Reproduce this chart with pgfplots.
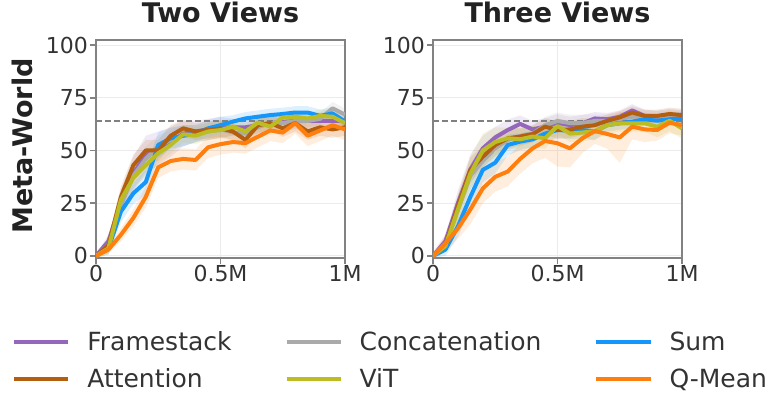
\documentclass[border=0pt]{standalone}
\usepackage{fontspec}
\setmainfont{DejaVu Sans}
\usepackage{pgfplots}
\pgfplotsset{compat=1.18}
\usepackage{pgfplotstable}
\usepgfplotslibrary{fillbetween}

\definecolor{cF}{RGB}{148,103,189}
\definecolor{cC}{RGB}{170,170,170}
\definecolor{cS}{RGB}{20,150,250}
\definecolor{cA}{RGB}{180,95,15}
\definecolor{cV}{RGB}{188,189,34}
\definecolor{cQ}{RGB}{255,127,14}
\definecolor{gridc}{RGB}{235,235,235}
\definecolor{spinec}{RGB}{130,130,130}
\definecolor{textc}{RGB}{51,51,51}
\definecolor{titlec}{RGB}{34,34,34}

\pgfplotstableread{
x F Fs C Cs S Ss A As V Vs Q Qs
0.00 0 1 0 1 0 1 0 1 0 1 0 1
0.05 7 3 5 3 3.6 3 5 3 3.6 3 3 2
0.10 25 6 24 5 21 5 28 5 26.5 5 10 3
0.15 39 8 38 6 29.7 5 43 5 37 5 18 4
0.20 48 9 46 6 35 6 50 5 43 5 28 5
0.25 51 8 52 5 52.6 6 50 5 48.7 5 42 5
0.30 54 7 55 5 55.8 5 57 5 52.6 4 45 5
0.35 58 6 57 5 57 5 60.5 4 57.7 4 46 5
0.40 59 5 58 4 58 4 59 4 57 4 45.5 5
0.45 60 5 59 4 60.5 4 59.7 4 59 4 51.5 5
0.50 61 5 60 4 62 4 60.5 4 59.7 4 53 5
0.55 61 4 58.5 4 63.7 3 59 4 61.3 4 54 5
0.60 61 4 58 4 65.2 3 55 4 59 4 53.5 5
0.65 62 4 61 4 66 3 62 4 63.2 4 56.5 5
0.70 63 4 63 4 66.8 3 63 4 61.3 4 59.5 5
0.75 63.5 4 63 3 67.3 3 60.5 4 65.7 3 58.5 5
0.80 64 4 64 3 68 3 63 4 66 3 63 5
0.85 64 4 64 3 68 3 59 4 65.2 3 57 5
0.90 64 4 65 3 66.4 3 61 4 66.4 3 59.5 5
0.95 64 4 70 3 67.6 3 60 4 66 3 62 5
1.00 64 4 67 3 63.7 3 61 4 63 3 60 5
}\two

\pgfplotstableread{
x F Fs C Cs S Ss A As V Vs Q Qs
0.00 0 1 0 1 0 1 0 1 0 1 0 2
0.05 7 3 5 3 3 3 5.5 3 4.7 3 6 4
0.10 25 6 22 5 14 5 23.7 5 22 7 13 5
0.15 41 7 38 6 28 6 40.8 6 39 8 22 7
0.20 51 6 45 6 40.8 6 47 5 50 8 32 7
0.25 56.2 5 51 5 44.2 5 52.6 5 54 7 37.5 7
0.30 59.7 5 55 5 52.6 5 55.8 5 55.8 5 40 7
0.35 62.6 4 57 5 54.2 4 56.6 4 55.3 5 46 7
0.40 60 4 58 4 55.3 4 57.8 4 56.6 5 51 7
0.45 61.3 4 62 4 58 4 61.3 4 55.8 5 54.5 8
0.50 63.2 4 64 4 59.7 4 59.7 4 61.6 4 53.4 11
0.55 62 4 63 4 59.4 4 60 4 58 4 51 9
0.60 62.9 4 63 4 59.7 4 61.3 4 58.5 4 55.8 7
0.65 65.2 3 64 3 59 4 62 3 59.2 4 59.2 6
0.70 64.8 3 64 3 62 3 64.1 3 62 4 57.8 7
0.75 66 3 65 3 62.9 3 65.7 3 62.9 4 56.2 12
0.80 69 3 66 3 63.7 3 68 3 62.9 4 61.3 6
0.85 66.4 3 66 3 64.8 3 66.4 3 62.9 4 60 6
0.90 65.7 3 66 3 64.1 3 66.4 3 61.3 5 59.7 5
0.95 66.8 3 66 3 64.8 3 67.3 3 64.1 5 63.2 5
1.00 66 3 66 3 65.2 3 66.8 3 60.5 5 62 5
}\three

\newcommand{\band}[3]{%
  \addplot[name path=U#2, draw=none, forget plot] table[x=x, y expr=\thisrow{#2}+\thisrow{#2s}] {#1};
  \addplot[name path=L#2, draw=none, forget plot] table[x=x, y expr=\thisrow{#2}-\thisrow{#2s}] {#1};
  \addplot[fill=#3, fill opacity=0.14, draw=none, forget plot] fill between[of=U#2 and L#2];
}
\newcommand{\allbands}[1]{%
  \band{#1}{F}{cF}\band{#1}{C}{cC}\band{#1}{S}{cS}\band{#1}{A}{cA}\band{#1}{V}{cV}\band{#1}{Q}{cQ}%
  \addplot[forget plot, color=gray, dashed, dash pattern=on 6pt off 3pt, line width=1.5pt] coordinates {(0,64) (1,64)};
}

\pgfplotsset{
  panel/.style={
    width=249pt, height=218pt, scale only axis,
    xmin=0, xmax=1, ymin=-1, ymax=102.4,
    xtick={0,0.5,1}, xticklabels={0,0.5M,1M},
    ytick={0,25,50,75,100},
    xtick pos=bottom, ytick pos=left,
    tick align=outside, major tick length=6pt,
    grid=major, major grid style={color=gridc, line width=1pt},
    axis line style={color=spinec, line width=1.5pt},
    tick style={color=spinec, line width=1.5pt},
    tick label style={font=\fontsize{22}{26}\selectfont, text=textc},
    xticklabel style={inner sep=1pt},
    yticklabel style={inner sep=2pt},
    /pgf/number format/assume math mode=true,
    title style={font=\bfseries\fontsize{27}{32}\selectfont, text=titlec, at={(0.5,1)}, anchor=base, yshift=12pt},
    every axis plot/.append style={line width=4pt, line join=round},
  }
}

\begin{document}
\begin{tikzpicture}

\begin{axis}[panel, at={(96pt,134pt)}, anchor=south west,
  title={Two Views},
  ylabel={Meta-World},
  ylabel style={font=\bfseries\fontsize{27}{32}\selectfont, text=titlec, at={(axis description cs:-0.256,0.514)}, anchor=base},
  legend columns=3,
  legend cell align=left,
  legend image code/.code={\draw[#1, line width=4pt] (0pt,0pt) -- (54pt,0pt);},
  legend style={at={(-0.336,-0.3394)}, anchor=north west, draw=none, fill=none,
    inner sep=0pt, outer sep=0pt, font=\fontsize{25}{30}\selectfont, text=textc,
    nodes={inner sep=0pt}, row sep=16pt,
    /tikz/every odd column/.append style={column sep=17pt},
    /tikz/every even column/.append style={column sep=53pt}},
]
\allbands{\two}
\addplot[cF] table[x=x, y=F] {\two}; \addlegendentry{Framestack}
\addplot[cC] table[x=x, y=C] {\two}; \addlegendentry{Concatenation}
\addplot[cS] table[x=x, y=S] {\two}; \addlegendentry{Sum}
\addplot[cA] table[x=x, y=A] {\two}; \addlegendentry{Attention}
\addplot[cV] table[x=x, y=V] {\two}; \addlegendentry{ViT}
\addplot[cQ] table[x=x, y=Q] {\two}; \addlegendentry{Q-Mean}
\end{axis}

\begin{axis}[panel, at={(433pt,134pt)}, anchor=south west,
  title={Three Views},
]
\allbands{\three}
\addplot[cF] table[x=x, y=F] {\three};
\addplot[cC] table[x=x, y=C] {\three};
\addplot[cS] table[x=x, y=S] {\three};
\addplot[cA] table[x=x, y=A] {\three};
\addplot[cV] table[x=x, y=V] {\three};
\addplot[cQ] table[x=x, y=Q] {\three};
\end{axis}
\pgfresetboundingbox
\path[use as bounding box] (0pt,0pt) rectangle (778pt,392pt);
\end{tikzpicture}
\end{document}
